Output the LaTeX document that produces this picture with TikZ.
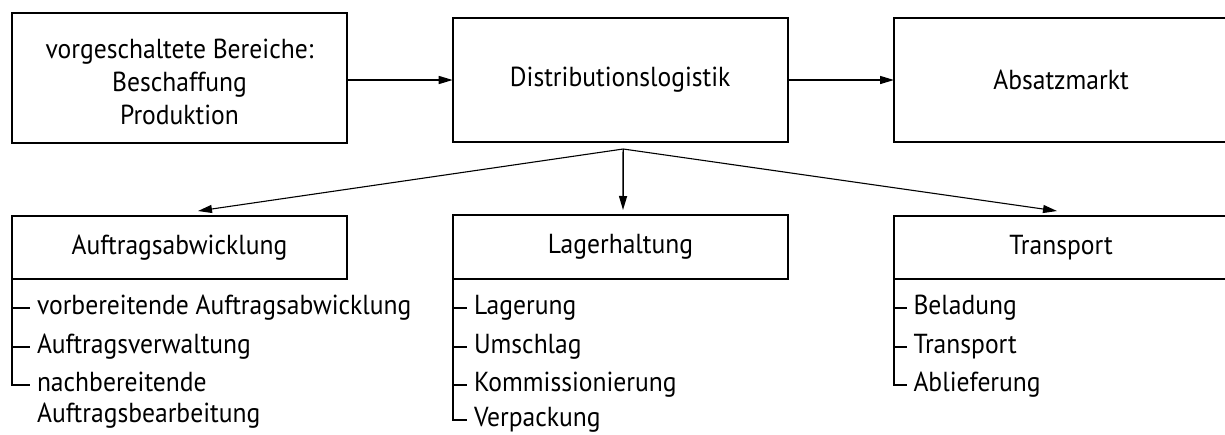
\documentclass[tikz,border=0pt]{standalone}
\usepackage{fontspec}
\setmainfont[FakeStretch=0.93]{PT Sans}
\usetikzlibrary{arrows.meta}
\newcommand{\fs}{\fontsize{27.5}{33}\selectfont}
\begin{document}
\begin{tikzpicture}[x=1pt,y=-1pt,
  box/.style={draw, line width=1.6pt, inner sep=0pt, outer sep=0pt, font=\fs, align=center},
  conn/.style={line width=1.4pt, -{Triangle[length=14pt,width=8pt]}},
  fan/.style={line width=1.1pt, -{Triangle[length=14pt,width=8pt]}},
  tree/.style={line width=1.2pt},
  item/.style={anchor=mid west, font=\fs, inner sep=0pt, outer xsep=7pt},
]
\fs
\useasboundingbox (0,0) rectangle (1225,434);
\clip (0,0) rectangle (1225,434);
% top row
\node[box, minimum width=335pt, minimum height=130pt] (pre) at (179.5,78)
  {\rule{0pt}{28pt}vorgeschaltete Bereiche:\\Beschaffung\\Produktion};
\node[box, minimum width=335pt, minimum height=124pt] (dist) at (620.2,80) {Distributionslogistik};
\node[box, minimum width=334pt, minimum height=124pt] (abs) at (1061,80) {Absatzmarkt};
% second row
\node[box, minimum width=335pt, minimum height=63pt] (auf) at (179.5,247.5) {Auftragsabwicklung};
\node[box, minimum width=335pt, minimum height=64pt] (lag) at (620.5,247) {Lagerhaltung};
\node[box, minimum width=334pt, minimum height=63pt] (tra) at (1061,247.5) {Transport};
% horizontal arrows
\draw[conn] (pre.east |- dist.west) -- (dist.west);
\draw[conn] (dist.east) -- (abs.west);
% fan
\coordinate (apex) at ([xshift=3pt,yshift=-7pt]dist.south);
\draw[fan] (apex) -- ([xshift=18.5pt,yshift=5pt]auf.north);
\draw[conn] (apex) -- ([xshift=2.5pt,yshift=5pt]lag.north);
\draw[fan] (apex) -- ([xshift=-4pt,yshift=5pt]tra.north);
% Auftragsabwicklung items
\node[item] (a1) at (30,308) {vorbereitende Auftragsabwicklung};
\node[item] (a2) at (30,347) {Auftragsverwaltung};
\node[item] (a3) at (30,385) {nachbereitende};
\node[font=\fs, anchor=base west, inner sep=0pt] (a4) at ([xshift=7pt,yshift=-31pt]a3.base west) {Auftragsbearbeitung};
\draw[tree] (auf.south west) |- (a3.mid west);
\draw[tree] (a1.mid west -| auf.west) -- (a1.mid west);
\draw[tree] (a2.mid west -| auf.west) -- (a2.mid west);
% Lagerhaltung items
\node[item] (l1) at (467,308) {Lagerung};
\node[item] (l2) at (467,347) {Umschlag};
\node[item] (l3) at (467,385) {Kommissionierung};
\node[item] (l4) at (467,420) {Verpackung};
\draw[tree] (lag.south west) |- (l4.mid west);
\draw[tree] (l1.mid west -| lag.west) -- (l1.mid west);
\draw[tree] (l2.mid west -| lag.west) -- (l2.mid west);
\draw[tree] (l3.mid west -| lag.west) -- (l3.mid west);
% Transport items
\node[item] (t1) at (906.5,308) {Beladung};
\node[item] (t2) at (906.5,347) {Transport};
\node[item] (t3) at (906.5,385) {Ablieferung};
\draw[tree] (tra.south west) |- (t3.mid west);
\draw[tree] (t1.mid west -| tra.west) -- (t1.mid west);
\draw[tree] (t2.mid west -| tra.west) -- (t2.mid west);
\end{tikzpicture}
\end{document}
